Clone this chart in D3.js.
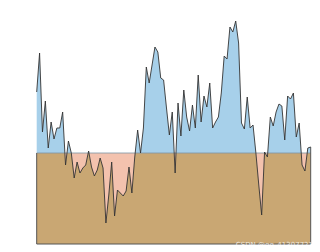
<!DOCTYPE html>
<html>
<head>
<meta charset="utf-8">
<script src="https://cdn.jsdelivr.net/npm/d3@7/dist/d3.min.js"></script>
<style>
html,body{margin:0;padding:0;background:#fff;}
svg{display:block;}
</style>
</head>
<body>
<svg id="chart" width="320" height="252"></svg>
<script>
// Series values (index 0..95), baseline = 0
const values = [61,100,21,52,5,31,14,25,25,41,-12,12,0,-25,-9,-20,-15,-12,2,-14,-23,-17,-5,-15,-70,-42,-9,-63,-37,-40,-43,-38,-14,-40,-4,23,0,25,86,70,88,106,101,75,73,45,18,41,-20,50,17,63,36,22,48,25,78,31,57,46,70,25,31,36,60,97,94,126,121,132,110,30,24,56,25,28,0,-32,-62,1,-4,36,27,41,49,47,13,57,54,60,16,30,-12,-18,5,6];
const baseline = 0;
const yDomain = [-91, 135];
const xDomain = [0, values.length - 1];

const svg = d3.select("#chart");
const x = d3.scaleLinear().domain(xDomain).range([36.7, 310.7]);
const y = d3.scaleLinear().domain(yDomain).range([244, 18]);

const data = values.map((v, i) => ({i, v}));

const defs = svg.append("defs");
defs.append("clipPath").attr("id", "above").append("rect")
  .attr("x", 0).attr("y", 0).attr("width", 320).attr("height", y(baseline));
defs.append("clipPath").attr("id", "below").append("rect")
  .attr("x", 0).attr("y", y(baseline)).attr("width", 320).attr("height", 252 - y(baseline));

// tan region below baseline
svg.append("rect")
  .attr("x", x(xDomain[0])).attr("y", y(baseline))
  .attr("width", x(xDomain[1]) - x(xDomain[0]))
  .attr("height", y(yDomain[0]) - y(baseline))
  .attr("fill", "#c9a773");

const area = d3.area().x(d => x(d.i)).y0(y(baseline)).y1(d => y(d.v));

svg.append("path").datum(data).attr("d", area)
  .attr("clip-path", "url(#above)").attr("fill", "#a7d0ea");
svg.append("path").datum(data).attr("d", area)
  .attr("clip-path", "url(#below)").attr("fill", "#f3c2ae");

// baseline
svg.append("line")
  .attr("x1", x(xDomain[0])).attr("x2", x(xDomain[1]))
  .attr("y1", y(baseline)).attr("y2", y(baseline))
  .attr("stroke", "#7f95a5").attr("stroke-width", 1).attr("opacity", 0.8);

// frame of tan region (left, bottom, right)
svg.append("path")
  .attr("d", d3.line()([[x(xDomain[0]), y(baseline)], [x(xDomain[0]), y(yDomain[0])], [x(xDomain[1]), y(yDomain[0])], [x(xDomain[1]), y(values[values.length-1])]]))
  .attr("fill", "none").attr("stroke", "#555").attr("stroke-width", 1);

// series line
svg.append("path").datum(data)
  .attr("d", d3.line().x(d => x(d.i)).y(d => y(d.v)))
  .attr("fill", "none").attr("stroke", "#333").attr("stroke-width", 0.9);

// watermark
svg.append("text").attr("x", 313).attr("y", 247).attr("text-anchor", "end")
  .attr("font-family", "DejaVu Sans").attr("font-size", 7).attr("fill", "#ffffff").attr("opacity", 0.75)
  .text("CSDN @qq_41307721");
</script>
</body>
</html>
